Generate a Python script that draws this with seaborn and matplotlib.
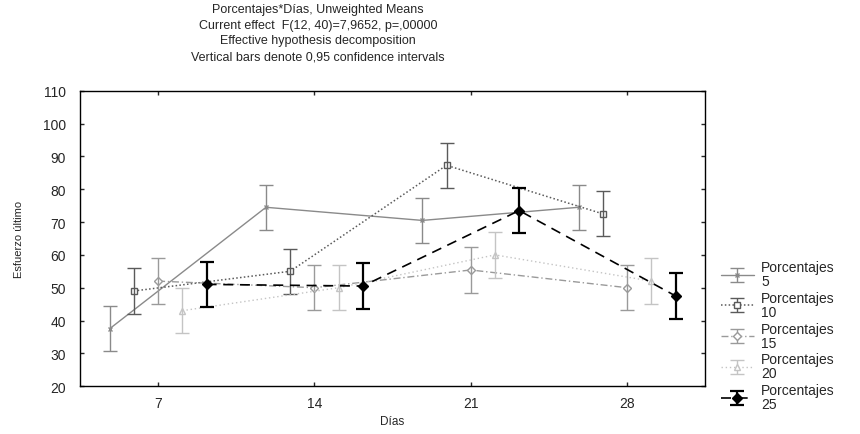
import matplotlib
matplotlib.use("Agg")
import numpy as np
import pandas as pd
import matplotlib.pyplot as plt
import seaborn as sns

# Datos (medias no ponderadas, IC 95%)
dias = ["7", "14", "21", "28"]
porcentajes = ["5", "10", "15", "20", "25"]
media_5 = [37.5, 74.5, 70.5, 74.5]
media_10 = [49.0, 55.0, 87.3, 72.5]
media_15 = [52.0, 50.0, 55.4, 50.0]
media_20 = [43.0, 50.0, 60.0, 52.0]
media_25 = [51.0, 50.5, 73.5, 47.5]
semi_ic = [6.9, 6.9, 6.9, 6.9, 6.9]

titulo = ["Porcentajes*Días, Unweighted Means",
          "Current effect  F(12, 40)=7,9652, p=,00000",
          "Effective hypothesis decomposition",
          "Vertical bars denote 0,95 confidence intervals"]

medias = [media_5, media_10, media_15, media_20, media_25]
filas = []
for i, p in enumerate(porcentajes):
    for j, d in enumerate(dias):
        filas.append({"Porcentajes": p, "Días": d, "dia_idx": j, "serie_idx": i,
                      "media": medias[i][j], "ic": semi_ic[i]})
df = pd.DataFrame(filas)
df["x"] = df["dia_idx"] + (df["serie_idx"] - 2) * 0.155

sns.set_style("ticks")
plt.rcParams["font.family"] = ["Liberation Sans", "DejaVu Sans"]

estilos = {
    "5":  dict(color="#8a8a8a", ls="-", marker="x", ms=3.5, mfc="#8a8a8a", lw=1.0, elw=1.0),
    "10": dict(color="#5a5a5a", ls=(0, (1, 1.5)), marker="s", ms=4.5, mfc="white", lw=1.1, elw=1.0),
    "15": dict(color="#9a9a9a", ls=(0, (5, 2, 1, 2)), marker="D", ms=4.5, mfc="white", lw=1.0, elw=1.0),
    "20": dict(color="#c4c4c4", ls=(0, (1, 2)), marker="^", ms=4.5, mfc="white", lw=1.0, elw=1.0),
    "25": dict(color="black", ls=(0, (6, 4)), marker="D", ms=5, mfc="black", lw=1.2, elw=1.6),
}

fig = plt.figure(figsize=(8.6, 4.35), dpi=100)
ax = fig.add_axes([0.093, 0.110, 0.727, 0.679])

handles = []
for p in porcentajes:
    sub = df[df["Porcentajes"] == p]
    st = estilos[p]
    sns.lineplot(data=sub, x="x", y="media", ax=ax, color=st["color"],
                 linestyle=st["ls"], linewidth=st["lw"], marker=st["marker"],
                 markersize=st["ms"], markerfacecolor=st["mfc"],
                 markeredgecolor=st["color"], markeredgewidth=1.0,
                 estimator=None, sort=True, legend=False)
    eb = ax.errorbar(sub["x"], sub["media"], yerr=sub["ic"], fmt="none",
                     ecolor=st["color"], elinewidth=st["elw"], capsize=5,
                     capthick=st["elw"])
    ln = plt.Line2D([], [], color=st["color"], linestyle=st["ls"], linewidth=st["lw"],
                    marker=st["marker"], markersize=st["ms"], markerfacecolor=st["mfc"],
                    markeredgecolor=st["color"])
    handles.append((eb, ln))

ax.set_xlim(-0.5, 3.5)
ax.set_ylim(20, 110)
ax.set_xticks(range(len(dias)))
ax.set_xticklabels(dias)
ax.set_yticks(np.arange(20, 111, 10))
ax.tick_params(direction="in", top=True, right=True, labelsize=10, length=3, width=1)
ax.tick_params(axis="y", pad=10)
ax.tick_params(axis="x", pad=7)
ax.set_xlabel("Días", fontsize=8.5, labelpad=4)
ax.set_ylabel("Esfuerzo último", fontsize=8, labelpad=14)
for s in ax.spines.values():
    s.set_linewidth(1.0)
    s.set_color("black")

for k, t in enumerate(titulo):
    fig.text(318 / 860, 1 - (10 + 15.7 * k) / 435, t, ha="center", va="center", fontsize=9)

leg = fig.legend(handles, ["Porcentajes\n" + p for p in porcentajes],
                 loc="upper left", bbox_to_anchor=(0.838, 0.40), frameon=False,
                 fontsize=10, handlelength=2.4, handletextpad=0.5,
                 labelspacing=0.2, borderpad=0, borderaxespad=0)
for t in leg.get_texts():
    t.set_linespacing(1.0)

fig.savefig("out.png", dpi=100)
